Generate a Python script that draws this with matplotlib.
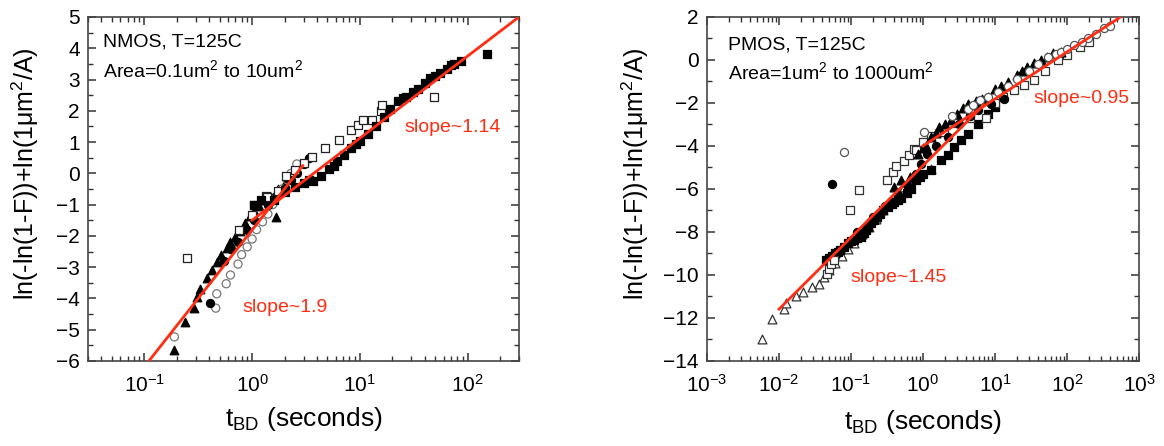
import matplotlib.pyplot as plt
import numpy as np
from matplotlib.ticker import LogLocator, MultipleLocator, NullFormatter

plt.rcParams['font.family'] = ['Liberation Sans', 'DejaVu Sans']
plt.rcParams['mathtext.fontset'] = 'custom'
plt.rcParams['mathtext.rm'] = 'Liberation Sans'
plt.rcParams['mathtext.it'] = 'Liberation Sans:italic'
plt.rcParams['mathtext.default'] = 'regular'

RED = '#ff2d12'

# ---------------- NMOS (left) data: (t_BD seconds, Weibull y) ----------------
n_fsq_t = [1.05, 1.2, 1.6, 2.0, 2.5, 3.0, 3.4, 3.7, 4.35, 5.2, 5.7, 6.2, 7.2, 8.3, 9.2, 10, 11.9, 14, 16.7,
           19, 22.4, 25, 27, 31, 35, 40, 45, 50, 55, 64, 70, 75, 86, 151]
n_fsq_y = [-1.0, -0.85, -0.85, -0.6, -0.45, -0.3, -0.2, -0.25, -0.1, 0.15, 0.25, 0.4, 0.6, 0.8, 0.95, 1.05, 1.25,
           1.5, 1.8, 2.05, 2.3, 2.4, 2.45, 2.6, 2.7, 2.9, 3.05, 3.1, 3.2, 3.35, 3.45, 3.5, 3.6, 3.82]

n_osq_t = [0.248, 0.75, 1.0, 1.05, 1.35, 1.38, 1.75, 2.07, 2.5, 3.05, 3.6, 4.7, 6.4, 8.3, 9.6, 10.8, 13.1,
           15.6, 16.2, 49]
n_osq_y = [-2.72, -1.82, -1.34, -1.02, -0.72, -0.77, -0.56, -0.09, 0.1, 0.34, 0.53, 0.82, 1.08, 1.4, 1.56, 1.72,
           1.72, 1.98, 2.2, 2.45]

n_fci_t = [0.41, 0.55, 0.64, 0.74, 0.9, 1.05, 1.4, 1.7, 2.0, 2.3, 2.6, 3.0, 3.4]
n_fci_y = [-4.14, -2.8, -2.42, -2.19, -1.82, -1.5, -1.0, -0.7, -0.5, -0.2, 0.0, 0.3, 0.5]

n_oci_t = [0.19, 0.46, 0.47, 0.575, 0.63, 0.74, 0.8, 0.9, 1.0, 1.1, 1.25, 1.4, 1.55, 1.7, 1.9, 2.1, 2.3, 2.6]
n_oci_y = [-5.23, -4.31, -3.85, -3.53, -3.25, -2.9, -2.6, -2.35, -2.1, -1.8, -1.55, -1.3, -1.0, -0.75, -0.5, -0.2,
           0.0, 0.3]

n_ftr_t = [0.19, 0.24, 0.29, 0.31, 0.33, 0.38, 0.42, 0.47, 0.52, 0.58, 0.63, 0.70, 0.78, 0.86, 0.95, 1.05, 1.15,
           1.3, 1.5, 1.67, 1.75, 2.0]
n_ftr_y = [-5.65, -4.75, -4.3, -3.95, -3.7, -3.35, -3.1, -2.85, -2.6, -2.4, -2.2, -2.05, -1.85, -1.6, -1.35, -1.2,
           -1.05, -0.85, -0.75, -1.4, -0.5, -0.3]

# fit lines: slope, intercept, t-range
n_slopes = [1.14, 1.9]
n_icepts = [-1.50, -1.81]
n_tmin = [1.0, 0.1]
n_tmax = [300, 2.95]
n_slope_labels = ['slope~1.14', 'slope~1.9']

# ---------------- PMOS (right) data ----------------
p_otr_t = [0.0058, 0.0079, 0.0118, 0.0125, 0.0173, 0.0214, 0.029, 0.036, 0.042, 0.05, 0.06, 0.075, 0.09, 0.11,
           0.14, 0.18, 0.22, 0.28, 0.35, 0.45, 0.55, 0.7, 1.29]
p_otr_y = [-12.96, -12.05, -11.59, -11.28, -10.97, -10.81, -10.58, -10.42, -10.1, -9.75, -9.45, -9.1, -8.8, -8.5,
           -8.1, -7.75, -7.4, -7.0, -6.6, -6.2, -5.9, -5.5, -5.06]

p_osq_t = [0.047, 0.05, 0.053, 0.058, 0.098, 0.13, 0.32, 0.38, 0.42, 0.55, 0.64, 0.76, 0.8, 1.0, 1.3, 1.98, 3.0,
           4.5, 7.5, 10, 13, 18.6, 25, 35, 50, 74, 100, 150, 200]
p_osq_y = [-9.95, -9.7, -9.5, -9.3, -6.96, -6.07, -5.57, -5.21, -4.95, -4.70, -4.44, -4.12, -4.2, -3.8, -3.55,
           -3.35, -2.95, -2.7, -2.7, -2.0, -1.7, -1.4, -1.15, -0.94, -0.5, 0.0, 0.25, 0.6, 0.85]

p_fsq_t = [0.045, 0.05, 0.055, 0.06, 0.065, 0.07, 0.08, 0.09, 0.1, 0.11, 0.12, 0.138, 0.15, 0.16, 0.175, 0.19,
           0.21, 0.23, 0.25, 0.28, 0.33, 0.37, 0.4, 0.45, 0.5, 0.6, 0.68, 0.8, 0.9, 1.0, 1.3, 1.78, 2.2, 2.7, 3.4,
           4.2, 5.75, 7.9, 10]
p_fsq_y = [-9.3, -9.2, -9.1, -9.0, -8.95, -8.85, -8.7, -8.5, -8.4, -8.35, -8.3, -8.25, -8.05, -7.9, -7.75, -7.6,
           -7.45, -7.3, -7.15, -7.0, -6.85, -6.7, -6.6, -6.5, -6.4, -6.2, -6.0, -5.6, -5.45, -5.3, -5.1, -4.67,
           -4.44, -4.05, -3.7, -3.42, -2.96, -2.49, -2.2]

p_fci_t = [0.054, 0.12, 0.2, 0.3, 0.45, 0.6, 0.8, 0.94, 1.14, 1.5, 2.2, 3.2, 4.5, 5.75, 8.8, 13.5]
p_fci_y = [-5.76, -8.0, -7.3, -6.8, -6.3, -5.8, -5.3, -4.82, -4.39, -4.0, -3.6, -3.0, -2.6, -2.34, -2.03, -1.8]

p_ftr_t = [0.4, 0.5, 0.65, 0.84, 1.0, 1.1, 1.3, 1.5, 1.69, 2.0, 2.45, 3.0, 3.6, 4.2, 5.5, 6.5, 7.9, 10, 12, 15,
           20, 24, 28, 35, 43, 52, 63, 83]
p_ftr_y = [-5.9, -5.6, -5.45, -4.36, -4.1, -4.0, -3.6, -3.4, -3.12, -3.0, -2.8, -2.5, -2.25, -2.03, -1.9, -1.8,
           -1.72, -1.35, -1.2, -1.02, -0.7, -0.5, -0.32, -0.15, 0.0, 0.15, 0.31, 0.38]

p_oci_t = [0.079, 1.04, 2.5, 4.2, 4.9, 6.1, 8, 10.9, 15, 20, 30, 40, 54, 70, 83, 100, 126, 160, 194, 250, 330, 400]
p_oci_y = [-4.28, -3.35, -2.6, -2.26, -2.1, -1.87, -1.7, -1.48, -1.2, -0.9, -0.5, -0.2, 0.15, 0.3, 0.38, 0.5, 0.69,
           0.85, 1.0, 1.2, 1.47, 1.6]

p_slopes = [0.95, 1.45]
p_icepts = [-4.0, -4.91]
p_tmin = [1.0, 0.01]
p_tmax = [555, 7.0]
p_slope_labels = ['slope~0.95', 'slope~1.45']

ylabel = 'ln(-ln(1-F))+ln(1$\\mu$m$^2$/A)'
xlabel = 't$_{BD}$ (seconds)'

fig = plt.figure(figsize=(11.64, 4.46), dpi=100)
axL = fig.add_axes([0.0756, 0.1906, 0.3703, 0.7713])
axR = fig.add_axes([0.6074, 0.1906, 0.3711, 0.7713])


def scatter_sets(ax, sets):
    for t, y, m, fc, ec, s in sets:
        ax.scatter(t, y, marker=m, s=s, facecolors=fc, edgecolors=ec, linewidths=0.9, zorder=3)


def fit_lines(ax, slopes, icepts, tmin, tmax):
    for b, c, t0, t1 in zip(slopes, icepts, tmin, tmax):
        tt = np.array([t0, t1])
        ax.plot(tt, b * np.log(tt) + c, color=RED, lw=2.0, zorder=4)


def style_axes(ax, xlim, ylim, ymaj, ymin):
    ax.set_xscale('log')
    ax.set_xlim(*xlim)
    ax.set_ylim(*ylim)
    ax.xaxis.set_major_locator(LogLocator(base=10, numticks=20))
    ax.xaxis.set_minor_locator(LogLocator(base=10, subs=np.arange(2, 10), numticks=20))
    ax.xaxis.set_minor_formatter(NullFormatter())
    ax.yaxis.set_major_locator(MultipleLocator(ymaj))
    ax.yaxis.set_minor_locator(MultipleLocator(ymin))
    ax.tick_params(which='both', direction='in', top=True, right=True, colors='#333333', labelcolor='black')
    ax.tick_params(which='major', length=6, width=1.1, labelsize=15)
    ax.tick_params(which='minor', length=3.5, width=1.0)
    ax.tick_params(axis='x', which='major', pad=9)
    ax.tick_params(axis='y', which='major', pad=6)
    for sp in ax.spines.values():
        sp.set_color('#444444')
        sp.set_linewidth(1.2)


# left panel
scatter_sets(axL, [
    (n_ftr_t, n_ftr_y, '^', 'black', 'black', 38),
    (n_oci_t, n_oci_y, 'o', 'none', '#777777', 34),
    (n_fci_t, n_fci_y, 'o', 'black', 'black', 34),
    (n_osq_t, n_osq_y, 's', 'white', '#222222', 32),
    (n_fsq_t, n_fsq_y, 's', 'black', 'black', 32),
])
fit_lines(axL, n_slopes, n_icepts, n_tmin, n_tmax)
style_axes(axL, (0.03, 300), (-6, 5), 1, 0.5)
axL.text(0.035, 0.927, 'NMOS, T=125C', transform=axL.transAxes, fontsize=14, va='center')
axL.text(0.035, 0.846, 'Area=0.1um$^2$ to 10um$^2$', transform=axL.transAxes, fontsize=14, va='center')
axL.text(0.845, 0.678, n_slope_labels[0], transform=axL.transAxes, fontsize=14, color=RED, ha='center', va='center')
axL.text(0.456, 0.156, n_slope_labels[1], transform=axL.transAxes, fontsize=14, color=RED, ha='center', va='center')
axL.set_ylabel(ylabel, fontsize=18)
axL.set_xlabel(xlabel, fontsize=19)
axL.yaxis.set_label_coords(-0.108, 0.545)
axL.xaxis.set_label_coords(0.5, -0.128)

# right panel
scatter_sets(axR, [
    (p_otr_t, p_otr_y, '^', 'white', '#333333', 40),
    (p_fsq_t, p_fsq_y, 's', 'black', 'black', 32),
    (p_osq_t, p_osq_y, 's', 'white', '#333333', 32),
    (p_fci_t, p_fci_y, 'o', 'black', 'black', 34),
    (p_ftr_t, p_ftr_y, '^', 'black', 'black', 40),
    (p_oci_t, p_oci_y, 'o', 'white', '#555555', 34),
])
fit_lines(axR, p_slopes, p_icepts, p_tmin, p_tmax)
style_axes(axR, (1e-3, 1e3), (-14, 2), 2, 1)
axR.text(0.049, 0.918, 'PMOS, T=125C', transform=axR.transAxes, fontsize=14, va='center')
axR.text(0.049, 0.841, 'Area=1um$^2$ to 1000um$^2$', transform=axR.transAxes, fontsize=14, va='center')
axR.text(0.868, 0.764, p_slope_labels[0], transform=axR.transAxes, fontsize=14, color=RED, ha='center', va='center')
axR.text(0.444, 0.242, p_slope_labels[1], transform=axR.transAxes, fontsize=14, color=RED, ha='center', va='center')
axR.set_ylabel(ylabel, fontsize=18)
axR.set_xlabel(xlabel, fontsize=19)
axR.yaxis.set_label_coords(-0.13, 0.545)
axR.xaxis.set_label_coords(0.5, -0.137)

fig.savefig('out.png', dpi=100)
